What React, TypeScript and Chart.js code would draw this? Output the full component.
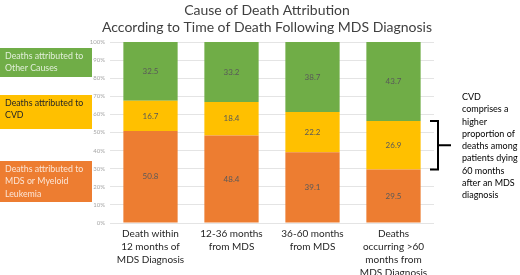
import React, { useEffect, useRef } from "react";
import { Chart, registerables } from "chart.js";

Chart.register(...registerables);

const categories: string[][] = [
  ["Death within", "12 months of", "MDS Diagnosis"],
  ["12-36 months", "from MDS"],
  ["36-60 months", "from MDS"],
  ["Deaths", "occurring >60", "months from", "MDS Diagnosis"],
];
const mdsValues = [50.8, 48.4, 39.1, 29.5];
const cvdValues = [16.7, 18.4, 22.2, 26.9];
const otherValues = [32.5, 33.2, 38.7, 43.7];
const yTicks = [0, 10, 20, 30, 40, 50, 60, 70, 80, 90, 100];
const titleLines = ["Cause of Death Attribution", "According to Time of Death Following MDS Diagnosis"];
const legendItems = [
  { lines: ["Deaths attributed to", "Other Causes"], color: "#70AD47", text: "#E2EFDA" },
  { lines: ["Deaths attributed to", "CVD"], color: "#FFC000", text: "#262626" },
  { lines: ["Deaths attributed to", "MDS or Myeloid", "Leukemia"], color: "#ED7D31", text: "#FBE5D6" },
];
const noteLines = [
  "CVD",
  "comprises a",
  "higher",
  "proportion of",
  "deaths among",
  "patients dying",
  "60 months",
  "after an MDS",
  "diagnosis",
];

const FONT = "Lato, 'Open Sans', sans-serif";

const extrasPlugin = {
  id: "extras",
  afterDatasetsDraw(chart: any) {
    const ctx = chart.ctx;
    ctx.save();
    ctx.font = `8px ${FONT}`;
    ctx.fillStyle = "#595959";
    ctx.textAlign = "center";
    ctx.textBaseline = "middle";
    chart.data.datasets.forEach((ds: any, di: number) => {
      const meta = chart.getDatasetMeta(di);
      meta.data.forEach((el: any, i: number) => {
        const v = ds.data[i];
        ctx.fillText(v.toFixed(1), el.x, (el.y + el.base) / 2);
      });
    });
    ctx.restore();
  },
  afterDraw(chart: any) {
    const ctx = chart.ctx;
    const y = chart.scales.y;
    ctx.save();
    // title
    ctx.fillStyle = "#404040";
    ctx.font = `14px ${FONT}`;
    ctx.textAlign = "center";
    ctx.textBaseline = "middle";
    ctx.fillText(titleLines[0], 267, 10);
    ctx.fillText(titleLines[1], 267, 27);

    // legend boxes
    const boxes = [
      { y0: 48, y1: 77 },
      { y0: 95, y1: 129 },
      { y0: 161, y1: 202 },
    ];
    legendItems.forEach((item, i) => {
      const b = boxes[i];
      ctx.fillStyle = item.color;
      ctx.fillRect(0, b.y0, 92, b.y1 - b.y0);
      ctx.fillStyle = item.text;
      ctx.font = `8.8px ${FONT}`;
      ctx.textAlign = "left";
      ctx.textBaseline = "middle";
      item.lines.forEach((l, k) => {
        ctx.fillText(l, 5, b.y0 + 8 + k * 12.5);
      });
    });

    // bracket on last bar's CVD segment
    const last = mdsValues.length - 1;
    const yTop = y.getPixelForValue(mdsValues[last] + cvdValues[last]);
    const yBot = y.getPixelForValue(mdsValues[last]);
    const bx = 438;
    ctx.strokeStyle = "#000";
    ctx.lineWidth = 2;
    ctx.beginPath();
    ctx.moveTo(430, yTop);
    ctx.lineTo(bx, yTop);
    ctx.lineTo(bx, yBot);
    ctx.lineTo(430, yBot);
    ctx.moveTo(bx, (yTop + yBot) / 2);
    ctx.lineTo(451, (yTop + yBot) / 2);
    ctx.stroke();

    // note text
    ctx.fillStyle = "#000";
    ctx.font = `9px ${FONT}`;
    ctx.textAlign = "left";
    ctx.textBaseline = "middle";
    noteLines.forEach((l, k) => {
      ctx.fillText(l, 462, 97 + k * 12.3);
    });
    ctx.restore();
  },
};

export default function App() {
  const ref = useRef<HTMLCanvasElement>(null);
  useEffect(() => {
    const chart = new Chart(ref.current!, {
      type: "bar",
      data: {
        labels: categories as any,
        datasets: [
          { label: "MDS or Myeloid Leukemia", data: mdsValues, backgroundColor: "#ED7D31" },
          { label: "CVD", data: cvdValues, backgroundColor: "#FFC000" },
          { label: "Other Causes", data: otherValues, backgroundColor: "#70AD47" },
        ],
      },
      options: {
        animation: false,
        responsive: false,
        maintainAspectRatio: false,
        layout: { padding: { left: 0, right: 86, top: 42, bottom: 0 } },
        datasets: { bar: { categoryPercentage: 1, barPercentage: 0.67 } },
        plugins: { legend: { display: false }, title: { display: false }, tooltip: { enabled: false } },
        scales: {
          x: {
            stacked: true,
            grid: { display: false, drawTicks: false },
            border: { display: false },
            ticks: {
              color: "#262626",
              font: { family: FONT, size: 10, lineHeight: 1.3 },
              padding: 4,
              maxRotation: 0,
              autoSkip: false,
            },
            afterFit: (s: any) => {
              s.height = 52;
            },
          },
          y: {
            stacked: true,
            min: 0,
            max: 100,
            afterBuildTicks: (s: any) => {
              s.ticks = yTicks.map((v) => ({ value: v }));
            },
            grid: { color: "#E4E4E4", drawTicks: false },
            border: { display: false },
            ticks: {
              color: "#A6A6A6",
              font: { family: FONT, size: 6 },
              padding: 5,
              callback: (v: any) => `${v}%`,
            },
            afterFit: (s: any) => {
              s.width = 110;
            },
          },
        },
      },
      plugins: [extrasPlugin],
    });
    return () => chart.destroy();
  }, []);
  return (
    <div style={{ position: "fixed", left: 0, top: 0, width: 520, height: 275, background: "#fff" }}>
      <canvas ref={ref} width={520} height={275} style={{ width: 520, height: 275 }} />
    </div>
  );
}
